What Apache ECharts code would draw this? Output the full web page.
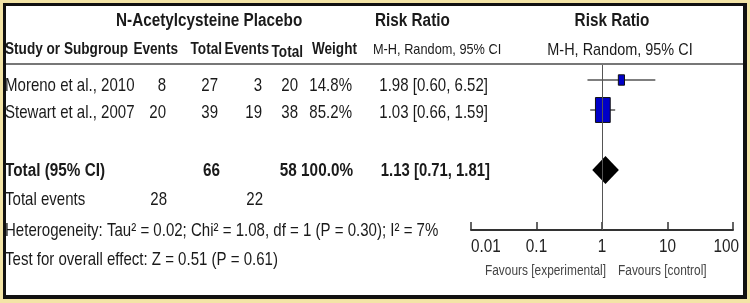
<!DOCTYPE html>
<html>
<head>
<meta charset="utf-8">
<script src="https://cdn.jsdelivr.net/npm/echarts@6/dist/echarts.min.js"></script>
<style>
  html, body { margin: 0; padding: 0; background: #f3e4a6; }
  #chart { width: 750px; height: 303px; }
</style>
</head>
<body>
<div id="chart"></div>
<script>
// 数据
const studies = ["Moreno et al., 2010", "Stewart et al., 2007"];
const expEvents = [8, 20];
const expTotal = [27, 39];
const ctlEvents = [3, 19];
const ctlTotal = [20, 38];
const weights = [14.8, 85.2];
const riskRatio = [1.98, 1.03];
const ciLower = [0.60, 0.66];
const ciUpper = [6.52, 1.59];
const studyRows = [1, 2];
const pooled = [1.13, 0.71, 1.81]; // RR, lower, upper
const pooledRow = 4;
const xTicks = [0.01, 0.1, 1, 10, 100];
const xTickLabels = ["0.01", "0.1", "1", "10", "100"];
const heterogeneity = "Heterogeneity: Tau² = 0.02; Chi² = 1.08, df = 1 (P = 0.30); I² = 7%";
const overallTest = "Test for overall effect: Z = 0.51 (P = 0.61)";

// 没有 Arial Narrow，用横向压缩代替
const FONT = '"Liberation Sans", Arial, sans-serif';
const NARROW = 0.85;
const sum = (a) => a.reduce((s, v) => s + v, 0);
const fmt2 = (v) => v.toFixed(2);
const ciText = (r, l, u) => `${fmt2(r)} [${fmt2(l)}, ${fmt2(u)}]`;

function txt(text, x, y, align, opts) {
  const o = opts || {};
  return {
    type: "text",
    silent: true,
    x: x,
    y: y,
    scaleX: NARROW,
    z: 10,
    style: {
      text: String(text),
      x: 0,
      y: 0,
      align: align || "left",
      verticalAlign: "middle",
      font: `${o.bold ? "bold " : ""}${o.size || 17.7}px ${FONT}`,
      fill: o.color || "#1a1a1a",
    },
  };
}

const H1 = { bold: true, size: 18 };
const H2 = { bold: true, size: 16 };
const rowY = [86, 113];
const graphics = [
  // 边框
  { type: "rect", shape: { x: 3, y: 3, width: 744, height: 296 }, style: { fill: "#111" } },
  { type: "rect", shape: { x: 6, y: 6, width: 737, height: 289 }, style: { fill: "#fff" } },
  // 表头分隔线
  { type: "line", shape: { x1: 6, y1: 64, x2: 743, y2: 64 }, style: { stroke: "#777", lineWidth: 2 } },
  txt("N-Acetylcysteine Placebo", 116, 21, "left", H1),
  txt("Risk Ratio", 375, 21, "left", H1),
  txt("Risk Ratio", 612, 21, "center", H1),
  txt("Study or Subgroup", 5, 50, "left", H2),
  txt("Events", 178, 50, "right", H2),
  txt("Total", 222, 50, "right", H2),
  txt("Events", 269, 50, "right", H2),
  txt("Total", 303, 53, "right", H2),
  txt("Weight", 357, 50, "right", H2),
  txt("M-H, Random, 95% CI", 373, 50, "left", { size: 15 }),
  txt("M-H, Random, 95% CI", 620, 50, "center", { size: 17 }),
];

studies.forEach((name, i) => {
  const y = rowY[i];
  graphics.push(
    txt(name, 5, y, "left"),
    txt(expEvents[i], 166, y, "right"),
    txt(expTotal[i], 218, y, "right"),
    txt(ctlEvents[i], 262, y, "right"),
    txt(ctlTotal[i], 298, y, "right"),
    txt(weights[i].toFixed(1) + "%", 352, y, "right"),
    txt(ciText(riskRatio[i], ciLower[i], ciUpper[i]), 488, y, "right")
  );
});

const B = { bold: true, size: 18 };
graphics.push(
  txt("Total (95% CI)", 5, 171, "left", B),
  txt(sum(expTotal), 220, 171, "right", B),
  txt(sum(ctlTotal) + " " + sum(weights).toFixed(1) + "%", 353, 171, "right", B),
  txt(ciText(pooled[0], pooled[1], pooled[2]), 490, 171, "right", { bold: true, size: 17.5 }),
  txt("Total events", 5, 200, "left"),
  txt(sum(expEvents), 167, 200, "right"),
  txt(sum(ctlEvents), 263, 200, "right"),
  txt(heterogeneity, 5, 231, "left"),
  txt(overallTest, 5, 260, "left"),
  txt("Favours [experimental]", 606, 271, "right", { size: 14, color: "#444" }),
  txt("Favours [control]", 618, 271, "left", { size: 14, color: "#444" })
);

const chart = echarts.init(document.getElementById("chart"));

const option = {
  animation: false,
  graphic: { elements: graphics },
  grid: { left: 471, right: 17, top: 65, bottom: 73, containLabel: false },
  xAxis: {
    type: "log",
    logBase: 10,
    min: xTicks[0],
    max: xTicks[xTicks.length - 1],
    axisLine: { lineStyle: { color: "#333", width: 2 } },
    axisTick: { inside: true, length: 8, lineStyle: { color: "#333", width: 1.5 } },
    axisLabel: { show: false },
    splitLine: { show: false },
  },
  yAxis: {
    type: "value",
    inverse: true,
    min: 0.5,
    max: 6,
    show: false,
  },
  series: [
    {
      type: "custom",
      data: studies.map((s, i) => [riskRatio[i], studyRows[i], ciLower[i], ciUpper[i], weights[i]]),
      renderItem: (params, api) => {
        const c = api.coord([api.value(0), api.value(1)]);
        const l = api.coord([api.value(2), api.value(1)]);
        const u = api.coord([api.value(3), api.value(1)]);
        const w = Math.sqrt(api.value(4));
        const hw = w * 0.8;
        const hh = w * 1.35;
        return {
          type: "group",
          children: [
            { type: "line", shape: { x1: l[0], y1: c[1], x2: u[0], y2: c[1] }, style: { stroke: "#555", lineWidth: 1.5 } },
            { type: "rect", shape: { x: c[0] - hw, y: c[1] - hh, width: hw * 2, height: hh * 2 }, style: { fill: "#0000c8", stroke: "#111", lineWidth: 1 } },
          ],
        };
      },
      markLine: {
        silent: true,
        symbol: "none",
        label: { show: false },
        lineStyle: { color: "#555", width: 1, type: "solid" },
        data: [{ xAxis: 1 }],
      },
      z: 3,
    },
    {
      type: "custom",
      data: [[pooled[0], pooledRow, pooled[1], pooled[2]]],
      renderItem: (params, api) => {
        const c = api.coord([api.value(0), api.value(1)]);
        const l = api.coord([api.value(2), api.value(1)]);
        const u = api.coord([api.value(3), api.value(1)]);
        const h = 14;
        return {
          type: "polygon",
          shape: { points: [[l[0], c[1]], [c[0], c[1] - h], [u[0], c[1]], [c[0], c[1] + h]] },
          style: { fill: "#000" },
        };
      },
      z: 4,
    },
  ],
};

chart.setOption(option);

// 刻度标签：位置由坐标轴换算，再横向压缩
const axisY = chart.convertToPixel({ yAxisIndex: 0 }, 6);
const tickLabels = xTicks.map((v, i) => {
  const px = chart.convertToPixel({ xAxisIndex: 0 }, v);
  const last = i === xTicks.length - 1;
  const align = i === 0 ? "left" : last ? "right" : "center";
  return txt(xTickLabels[i], last ? px + 6 : px, axisY + 17, align, { size: 18, color: "#222" });
});
chart.setOption({ graphic: { elements: graphics.concat(tickLabels) } }, { replaceMerge: ["graphic"] });
</script>
</body>
</html>
